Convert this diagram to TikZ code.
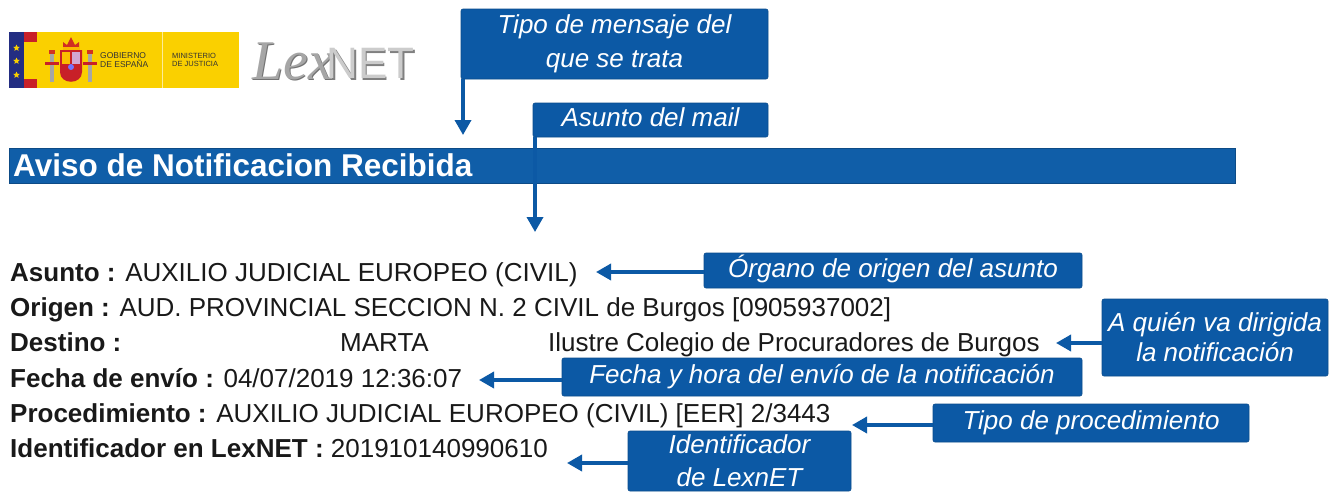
\documentclass[tikz,border=0pt]{standalone}
\usepackage{fontspec}
\setmainfont{Liberation Sans}
\newfontfamily\serifit{Liberation Serif}
\usetikzlibrary{arrows.meta,calc,shapes.geometric}

\definecolor{boxblue}{RGB}{12,89,165}
\definecolor{barblue}{RGB}{16,94,168}
\definecolor{logoyellow}{RGB}{250,208,0}
\definecolor{logored}{RGB}{200,32,40}
\definecolor{logonavy}{RGB}{35,45,130}
\definecolor{bodytext}{RGB}{25,25,25}

\begin{document}
\begin{tikzpicture}[x=1pt,y=-1pt,
  callout/.style={fill=boxblue, draw=boxblue!85!black, line width=0.6pt, rounded corners=2pt,
    inner sep=0pt, text=white, align=center},
  cfont/.style={font=\fontsize{26}{#1}\selectfont\itshape},
  single/.style={text height=18.6pt, text depth=5pt},
  arr/.style={draw=boxblue, line width=3.5pt, -{Triangle[width=16pt,length=15pt]}},
  body/.style={anchor=base west, inner sep=0pt, text=bodytext, font=\fontsize{26}{30}\selectfont},
  smalllogo/.style={font=\fontsize{#1}{#1}\selectfont, text=black!80, align=left, anchor=west, inner sep=0pt},
]
\useasboundingbox (0,0) rectangle (1329,493);
\fill[white] (0,0) rectangle (1329,493);

% ---------- logo: Gobierno de España ----------
\fill[logoyellow] (9,32) rectangle (239,88);
\fill[logonavy] (9,32) rectangle (24,88);
\fill[logored] (24,32) rectangle (37,42);
\fill[logored] (24,79) rectangle (37,88);
\node[star, star points=5, star point ratio=2.2, fill=logoyellow, minimum size=7pt, inner sep=0pt] (st1) at (16.5,48) {};
\node[star, star points=5, star point ratio=2.2, fill=logoyellow, minimum size=7pt, inner sep=0pt] (st2) at (16.5,61) {};
\node[star, star points=5, star point ratio=2.2, fill=logoyellow, minimum size=7pt, inner sep=0pt] (st3) at (16.5,75) {};
\draw[white!60!logoyellow, line width=1pt] (162,32) -- (162,88);
% coat of arms
\fill[black!35] (50,54) rectangle (54,82);
\fill[black!35] (88,54) rectangle (92,82);
\fill[logored!80!orange] (49,50) rectangle (55,54);
\fill[logored!80!orange] (87,50) rectangle (93,54);
\fill[logored] (45,62) rectangle (59,65);
\fill[logored] (83,62) rectangle (97,65);
\fill[logored] (60,50) -- (82,50) -- (82,72) .. controls (82,85) and (60,85) .. (60,72) -- cycle;
\fill[violet!35] (72,52) rectangle (80,64);
\fill[logoyellow!80!orange] (62,52) rectangle (70,64);
\fill[blue!55] (71,67) circle (3);
\fill[logored!85!orange] (63,50) -- (63,42) -- (67,45) -- (71,37) -- (75,45) -- (79,42) -- (79,50) -- cycle;
\fill[logoyellow!70!orange] (63,47) rectangle (79,50);
\node[smalllogo=8.5] (gob) at (100,60) {GOBIERNO\\DE ESPAÑA};
\node[smalllogo=7.5] (minis) at (172,60) {MINISTERIO\\DE JUSTICIA};

% ---------- logo: LexNET ----------
\node[anchor=base west, inner sep=0pt, text=black!55, font=\serifit\itshape\fontsize{56}{56}\selectfont] (lexsh) at (253.5,80.5) {Lex};
\node[anchor=base west, inner sep=0pt, text=black!35, font=\serifit\itshape\fontsize{56}{56}\selectfont] (lex) at (252,79) {Lex};
\node[anchor=base west, inner sep=0pt, text=black!50, font=\fontsize{44}{44}\selectfont] (netsh) at (328,80) {NET};
\node[anchor=base west, inner sep=0pt, text=black!20, font=\fontsize{44}{44}\selectfont] (net) at (326.5,78.5) {NET};

% ---------- header bar ----------
\node[fill=barblue, draw=barblue!80!black, line width=0.6pt, minimum width=1226pt, minimum height=35pt, inner sep=0pt, anchor=north west] (bar) at (9,148) {};
\node[anchor=base west, inner sep=0pt, text=white, font=\fontsize{31.5}{34}\selectfont\bfseries] (aviso) at (13,176) {Aviso de Notificacion Recibida};

% ---------- body text ----------
\node[body] (asunto) at (10,281) {\textbf{Asunto :} AUXILIO JUDICIAL EUROPEO (CIVIL)};
\node[body] (origen) at (10,316) {\textbf{Origen :} AUD. PROVINCIAL SECCION N. 2 CIVIL de Burgos [0905937002]};
\node[body] (destino) at (10,351) {\textbf{Destino :}};
\node[body] (marta) at (340,351) {MARTA};
\node[body] (ilustre) at (548,351) {Ilustre Colegio de Procuradores de Burgos};
\node[body] (fecha) at (10,387) {\textbf{Fecha de envío :} 04/07/2019 12:36:07};
\node[body] (proc) at (10,422) {\textbf{Procedimiento :} AUXILIO JUDICIAL EUROPEO (CIVIL) [EER] 2/3443};
\node[body] (ident) at (10,457) {\textbf{Identificador en LexNET :} 201910140990610};

% ---------- callouts ----------
\node[callout, cfont=34, minimum width=307pt, minimum height=70pt] (tipo) at (614.5,44) {Tipo de mensaje del\\que se trata};
\node[callout, cfont=30, single, minimum width=235pt, minimum height=34pt] (mail) at (650.5,120) {Asunto del mail};
\node[callout, cfont=30, single, minimum width=378pt, minimum height=35pt] (organo) at (893,270.5) {Órgano de origen del asunto};
\node[callout, cfont=30, minimum width=226pt, minimum height=77pt] (quien) at (1215,337.5) {A quién va dirigida\\la notificación};
\node[callout, cfont=30, single, minimum width=520pt, minimum height=38pt] (fechabox) at (822,377) {Fecha y hora del envío de la notificación};
\node[callout, cfont=30, single, minimum width=316pt, minimum height=38pt] (procbox) at (1091,423) {Tipo de procedimiento};
\node[callout, cfont=33, minimum width=223pt, minimum height=60pt] (identbox) at (739.5,461) {Identificador\\de LexnET};

% ---------- arrows ----------
\coordinate (tipoTip) at (463,135);
\coordinate (mailTip) at (535,232);
\coordinate (organoTip) at (596,272);
\coordinate (quienTip) at (1056,343);
\coordinate (fechaTip) at (479,380);
\coordinate (procTip) at (852,425);
\coordinate (identTip) at (567,463);

\draw[arr] (tipo.south -| tipoTip) -- (tipoTip);
\draw[arr] (mail.south -| mailTip) -- (mailTip);
\draw[arr] (organo.west |- organoTip) -- (organoTip);
\draw[arr] (quien.west |- quienTip) -- (quienTip);
\draw[arr] (fechabox.west |- fechaTip) -- (fechaTip);
\draw[arr] (procbox.west |- procTip) -- (procTip);
\draw[arr] (identbox.west |- identTip) -- (identTip);
\end{tikzpicture}
\end{document}
